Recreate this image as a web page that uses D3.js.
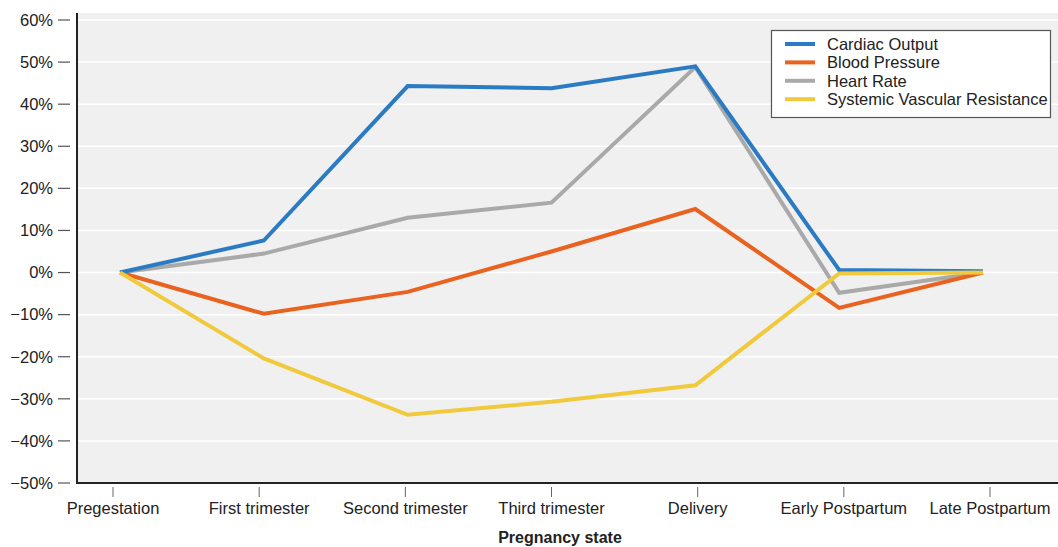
<!DOCTYPE html>
<html><head><meta charset="utf-8">
<script src="https://cdn.jsdelivr.net/npm/d3@7"></script>
<style>body{margin:0;background:#fff;font-family:"Liberation Sans",Arial,Helvetica,sans-serif;}</style>
</head><body><svg id="c" width="1058" height="547"></svg>
<script>
const categories = ["Pregestation","First trimester","Second trimester","Third trimester","Delivery","Early Postpartum","Late Postpartum"];
const seriesNames = ["Cardiac Output","Blood Pressure","Heart Rate","Systemic Vascular Resistance"];
const cardiacOutput = [0, 7.6, 44.3, 43.8, 49, 0.6, 0.3];
const bloodPressure = [0, -9.8, -4.6, 5, 15.1, -8.4, 0];
const heartRate = [0, 4.5, 13, 16.6, 48.8, -4.8, 0];
const svr = [0, -20.4, -33.8, -30.7, -26.8, -0.2, 0];
const yTicks = [60,50,40,30,20,10,0,-10,-20,-30,-40,-50];
const colors = ["#2b7bc4","#e9621f","#a9a9a9","#f1c93c"];
const seriesData = [cardiacOutput, bloodPressure, heartRate, svr];

const svg = d3.select("#c");
const pLeft = 77, pRight = 1058, pTop = 13, pBottom = 483;
const x = d3.scalePoint().domain(categories).range([120, 983]);
const xLab = d3.scalePoint().domain(categories).range([113, 990]);
const y = d3.scaleLinear().domain([-50, 60]).range([483, 20]);

svg.append("rect").attr("x", pLeft).attr("y", pTop).attr("width", pRight - pLeft).attr("height", pBottom - pTop).attr("fill", "#f0f0f0");

svg.append("g").selectAll("line").data(yTicks.filter(d => d > -50)).join("line")
  .attr("x1", pLeft).attr("x2", pRight).attr("y1", d => y(d)).attr("y2", d => y(d))
  .attr("stroke", "#ffffff").attr("stroke-width", 1.5);

// y axis ticks and labels
const yAxis = svg.append("g");
yAxis.selectAll("line").data(yTicks).join("line")
  .attr("x1", 58).attr("x2", 70).attr("y1", d => y(d)).attr("y2", d => y(d))
  .attr("stroke", "#555").attr("stroke-width", 1.2);
yAxis.selectAll("text").data(yTicks).join("text")
  .attr("x", 53).attr("y", d => y(d)).attr("dy", "0.35em").attr("text-anchor", "end")
  .attr("font-size", 16.5).attr("fill", "#222")
  .text(d => (d < 0 ? "\u2212" + Math.abs(d) : d) + "%");

// x axis ticks and labels
const xAxis = svg.append("g");
xAxis.selectAll("line").data(categories).join("line")
  .attr("x1", d => xLab(d)).attr("x2", d => xLab(d)).attr("y1", 487).attr("y2", 497)
  .attr("stroke", "#666").attr("stroke-width", 1);
xAxis.selectAll("text").data(categories).join("text")
  .attr("x", d => xLab(d)).attr("y", 514).attr("text-anchor", "middle")
  .attr("font-size", 16.5).attr("fill", "#222").text(d => d);

svg.append("text").attr("x", 560).attr("y", 543).attr("text-anchor", "middle")
  .attr("font-size", 16).attr("font-weight", "bold").attr("fill", "#222").text("Pregnancy state");

// axis lines
svg.append("line").attr("x1", pLeft).attr("x2", pLeft).attr("y1", pTop).attr("y2", pBottom + 1)
  .attr("stroke", "#222").attr("stroke-width", 2);
svg.append("line").attr("x1", pLeft).attr("x2", pRight).attr("y1", pBottom).attr("y2", pBottom)
  .attr("stroke", "#222").attr("stroke-width", 2);

// lines
const line = d3.line().x((d, i) => x(categories[i])).y(d => y(d));
const drawOrder = [2, 1, 0, 3];
svg.append("g").selectAll("path").data(drawOrder).join("path")
  .attr("d", i => line(seriesData[i])).attr("fill", "none")
  .attr("stroke", i => colors[i]).attr("stroke-width", 4).attr("stroke-linejoin", "miter");

// legend
const lg = svg.append("g");
lg.append("rect").attr("x", 771.5).attr("y", 30.5).attr("width", 279).attr("height", 87)
  .attr("fill", "#fff").attr("stroke", "#555").attr("stroke-width", 1.2);
seriesNames.forEach((n, i) => {
  const yy = 44 + i * 18.4;
  lg.append("line").attr("x1", 785).attr("x2", 815).attr("y1", yy).attr("y2", yy)
    .attr("stroke", colors[i]).attr("stroke-width", 4);
  lg.append("text").attr("x", 827).attr("y", yy).attr("dy", "0.35em")
    .attr("font-size", 16.5).attr("fill", "#222").text(n);
});
</script></body></html>
